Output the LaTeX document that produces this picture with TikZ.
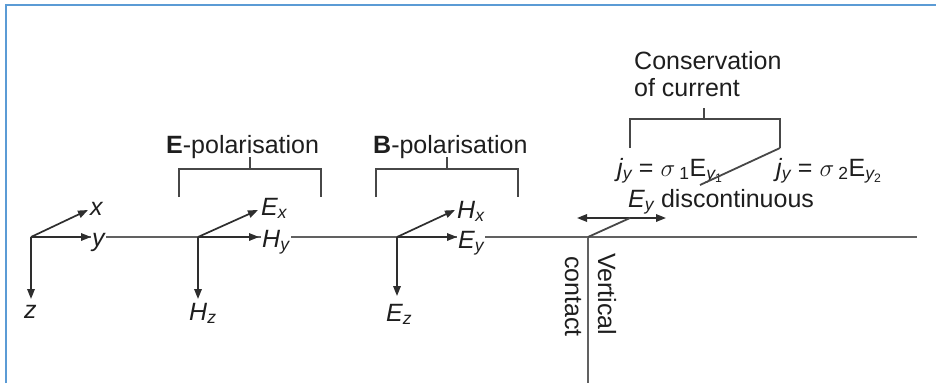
\documentclass[tikz,border=0pt]{standalone}
\usepackage{fontspec}
\setmainfont{Liberation Sans}
\usetikzlibrary{arrows.meta}
\definecolor{frameblue}{RGB}{91,155,213}
\definecolor{ink}{RGB}{30,30,30}
\newcommand{\lsub}[1]{\textsubscript{#1}}

\begin{document}
\begin{tikzpicture}[x=1pt,y=-1pt,
  baseline/.style={draw=black!62, line width=2pt},
  bracket/.style={draw=black!72, line width=1.8pt},
  axis/.style={draw=black!82, line width=1.7pt, -{Triangle[length=10pt,width=7.5pt]}},
  twoway/.style={draw=black!82, line width=1.7pt, {Triangle[length=10pt,width=7.5pt]}-{Triangle[length=10pt,width=7.5pt]}},
  lbl/.style={inner sep=0pt, anchor=base west, text=ink, font=\fontsize{25}{29}\selectfont},
  mask/.style={fill=white, inner sep=1pt}]

\useasboundingbox (0,0) rectangle (936,383);

% frame (top and left edges)
\draw[frameblue, line width=2.5pt] (6,383) -- (6,5) -- (936,5);

% origins, tips and corners
\coordinate (o1) at (31,237);
\coordinate (o2) at (198,237);
\coordinate (o3) at (397,237);
\coordinate (vc) at (588,237);
\coordinate (lineend) at (917,237);
\coordinate (vcbot) at (588,383);

% ground surface and vertical contact
\draw[baseline] (o1) -- (lineend);
\draw[baseline] (vc) -- (vcbot);

% labels
\node[lbl] (lx) at (90,215) {\itshape x};
\node[lbl, mask] (ly) at (91,246) {\itshape y};
\node[lbl] (lz) at (24,318) {\itshape z};

\node[lbl] (lEx) at (261,215) {\itshape E\lsub{x}};
\node[lbl, mask] (lHy) at (261,247) {\itshape H\lsub{y}};
\node[lbl] (lHz) at (189,320) {\itshape H\lsub{z}};

\node[lbl] (lHx) at (457,218) {\itshape H\lsub{x}};
\node[lbl, mask] (lEy) at (457,248) {\itshape E\lsub{y}};
\node[lbl] (lEz) at (386,321) {\itshape E\lsub{z}};

% axis tips
\coordinate (tx) at (88,210);
\coordinate (ty) at (91,237);
\coordinate (tz) at (31,299);
\coordinate (tEx) at (258,210);
\coordinate (tHy) at (259,237);
\coordinate (tHz) at (198,299);
\coordinate (tHx) at (455,210);
\coordinate (tEy) at (457,237);
\coordinate (tEz) at (397,296);

\draw[axis] (o1) -- (tx);
\draw[axis] (o1) -- (ty);
\draw[axis] (o1) -- (tz);
\draw[axis] (o2) -- (tEx);
\draw[axis] (o2) -- (tHy);
\draw[axis] (o2) -- (tHz);
\draw[axis] (o3) -- (tHx);
\draw[axis] (o3) -- (tEy);
\draw[axis] (o3) -- (tEz);

% polarisation brackets
\node[lbl] (epol) at (166,153) {\bfseries E\mdseries-polarisation};
\coordinate (e1) at (179,197); \coordinate (e2) at (179,169);
\coordinate (e3) at (321,169); \coordinate (e4) at (321,197);
\coordinate (es1) at (250,169); \coordinate (es2) at (250,157);
\draw[bracket] (e1) -- (e2) -- (e3) -- (e4);
\draw[bracket] (es1) -- (es2);

\node[lbl] (bpol) at (373,153) {\bfseries B\mdseries-polarisation};
\coordinate (b1) at (376,197); \coordinate (b2) at (376,169);
\coordinate (b3) at (518,169); \coordinate (b4) at (518,197);
\coordinate (bs1) at (447,169); \coordinate (bs2) at (447,157);
\draw[bracket] (b1) -- (b2) -- (b3) -- (b4);
\draw[bracket] (bs1) -- (bs2);

% conservation of current
\node[lbl] (cons1) at (634,69) {Conservation};
\node[lbl] (cons2) at (634,96) {of current};
\coordinate (c1) at (630,148); \coordinate (c2) at (630,119);
\coordinate (c3) at (780,119); \coordinate (c4) at (780,148);
\coordinate (cs1) at (704,119); \coordinate (cs2) at (704,108);
\draw[bracket] (c1) -- (c2) -- (c3) -- (c4);
\draw[bracket] (cs1) -- (cs2);

\node[lbl] (j1) at (617,176) {{\itshape j\lsub{y}} = $\sigma$\,\lsub{1}E\lsub{{\itshape y}\lsub{1}}};
\node[lbl] (j2) at (776,176) {{\itshape j\lsub{y}} = $\sigma$\,\lsub{2}E\lsub{{\itshape y}\lsub{2}}};
\coordinate (cd) at (700,185);
\draw[bracket] (c4) -- (cd);

% discontinuity of E_y at the contact
\node[lbl] (disc) at (628,207) {{\itshape E\lsub{y}} discontinuous};
\coordinate (dl) at (577,218);
\coordinate (dr) at (666,218);
\coordinate (dm) at (630,218);
\draw[twoway] (dl) -- (dr);
\draw[bracket] (vc) -- (dm);

% contact labels
\node[lbl, anchor=base west, rotate=-90] (vert) at (598,253) {Vertical};
\node[lbl, anchor=base west, rotate=-90] (cont) at (565,256) {contact};

\end{tikzpicture}
\end{document}
